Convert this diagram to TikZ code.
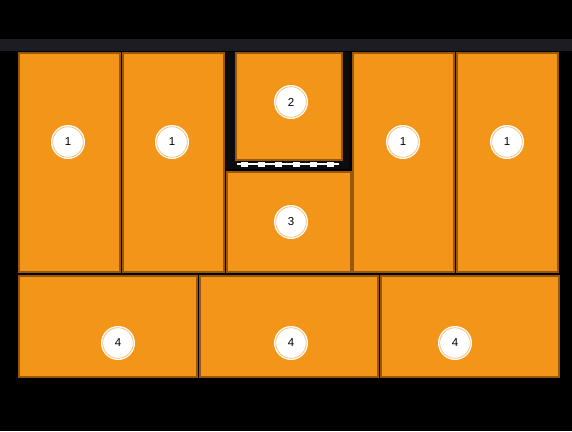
\documentclass[tikz,border=0pt]{standalone}
\usepackage{fontspec}
\setmainfont{Liberation Sans}
\definecolor{bg}{HTML}{000000}
\definecolor{bar}{HTML}{1D1C22}
\definecolor{fillor}{HTML}{F29518}
\definecolor{edgeor}{HTML}{9A5709}
\definecolor{ringor}{HTML}{F4C27E}
\definecolor{frame}{HTML}{0B0B10}
\begin{document}
\begin{tikzpicture}[x=1pt,y=-1pt,
  box/.style={draw=edgeor, fill=fillor, line width=2pt, rectangle, anchor=north west, inner sep=0pt},
  num/.style={circle, fill=white, minimum size=34pt, inner sep=0pt, font=\fontsize{11.5}{11.5}\selectfont,
    path picture={\draw[ringor, line width=0.8pt] (path picture bounding box.center) circle[radius=15.3pt];}}]
\fill[bg] (0,0) rectangle (572,431);
\useasboundingbox (0,0) rectangle (572,431);
\fill[bar] (0,39) rectangle (572,51);
% frame around drawer 2
\node[fill=frame, draw=black, line width=1pt, rectangle, anchor=north west, inner sep=0pt,
  minimum width=126pt, minimum height=118pt] (fr) at (224,51) {};
\node[box, minimum width=101pt, minimum height=219pt] (b1) at (17.5,52) {};
\node[box, minimum width=101pt, minimum height=219pt] (b2) at (121.5,52) {};
\node[box, minimum width=106pt, minimum height=107pt] (b5) at (234.5,52) {};
\node[box, minimum width=124pt, minimum height=100pt] (b6) at (225.5,171) {};
\node[box, minimum width=101pt, minimum height=219pt] (b3) at (351.5,52) {};
\node[box, minimum width=101pt, minimum height=219pt] (b4) at (455.5,52) {};
\node[box, minimum width=178pt, minimum height=101pt] (b7) at (17.5,275) {};
\node[box, minimum width=178pt, minimum height=101pt] (b8) at (198.5,275) {};
\node[box, minimum width=178pt, minimum height=101pt] (b9) at (379.5,275) {};
% dashed slide rail
\coordinate (ra) at (237,164);
\coordinate (rb) at (339,164);
\draw[white, line width=1.4pt] (ra) -- (rb);
\foreach \x in {244,261,278,296,313,330}
  \fill[white] (\x-3.5,161.5) rectangle (\x+3.5,166.5);
% numbers
\node[num] (n1) at (68,142) {1};
\node[num] (n2) at (172,142) {1};
\node[num] (n3) at (291,102) {2};
\node[num] (n4) at (291,222) {3};
\node[num] (n5) at (403,142) {1};
\node[num] (n6) at (507,142) {1};
\node[num] (n7) at (118,343) {4};
\node[num] (n8) at (291,343) {4};
\node[num] (n9) at (455,343) {4};
\end{tikzpicture}
\end{document}
